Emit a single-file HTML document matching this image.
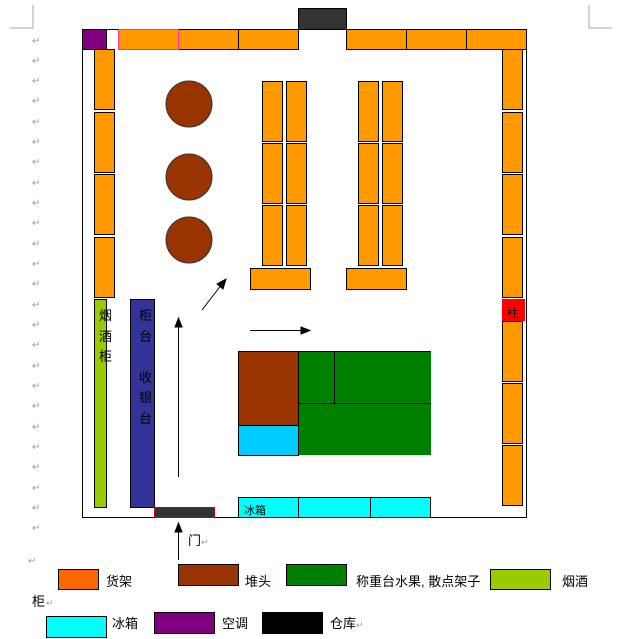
<!DOCTYPE html>
<html><head><meta charset="utf-8"><style>
html,body{margin:0;padding:0;background:#fff;width:623px;height:639px;overflow:hidden}
svg text{font-family:"Liberation Sans","Noto Sans CJK SC",sans-serif}
</style></head><body>
<svg width="623" height="639" viewBox="0 0 623 639" xmlns="http://www.w3.org/2000/svg">
<!-- page corner marks -->
<path d="M33 5 V28 H10" fill="none" stroke="#aaa"/>
<path d="M589 5 V28 H612" fill="none" stroke="#aaa"/>
<g fill="#999" font-size="10">
<text x="32" y="44">↵</text><text x="32" y="64">↵</text><text x="32" y="84">↵</text><text x="32" y="104">↵</text>
<text x="32" y="125">↵</text><text x="32" y="145">↵</text><text x="32" y="165">↵</text><text x="32" y="186">↵</text>
<text x="32" y="206">↵</text><text x="32" y="226">↵</text><text x="32" y="247">↵</text><text x="32" y="267">↵</text>
<text x="32" y="287">↵</text><text x="32" y="308">↵</text><text x="32" y="328">↵</text><text x="32" y="348">↵</text>
<text x="32" y="369">↵</text><text x="32" y="389">↵</text><text x="32" y="409">↵</text><text x="32" y="430">↵</text>
<text x="32" y="450">↵</text><text x="32" y="470">↵</text><text x="32" y="491">↵</text><text x="32" y="511">↵</text>
<text x="32" y="531">↵</text><text x="28" y="564">↵</text>
</g>
<!-- outer -->
<rect x="82.5" y="29.5" width="444" height="488" fill="none" stroke="#000"/>
<g stroke="#000" stroke-width="1">
<rect x="82.5" y="29.5" width="24" height="20" fill="#800080"/>
<rect x="178.5" y="29.5" width="60" height="20" fill="#ff9900"/>
<rect x="238.5" y="29.5" width="60" height="20" fill="#ff9900"/>
<rect x="346.5" y="29.5" width="60" height="20" fill="#ff9900"/>
<rect x="406.5" y="29.5" width="60" height="20" fill="#ff9900"/>
<rect x="466.5" y="29.5" width="60" height="20" fill="#ff9900"/>
<rect x="298.5" y="8.5" width="48" height="21" fill="#333"/>
<!-- left column -->
<rect x="94.5" y="49.5" width="20" height="60" fill="#ff9900"/>
<rect x="94.5" y="112.5" width="20" height="60" fill="#ff9900"/>
<rect x="94.5" y="174.5" width="20" height="60" fill="#ff9900"/>
<rect x="94.5" y="237.5" width="20" height="60" fill="#ff9900"/>
<rect x="94.5" y="299.5" width="12" height="208" fill="#99cc00"/>
<rect x="130.5" y="299.5" width="24" height="208" fill="#333399"/>
<!-- right column -->
<rect x="502.5" y="49.5" width="20" height="60" fill="#ff9900"/>
<rect x="502.5" y="112.5" width="20" height="60" fill="#ff9900"/>
<rect x="502.5" y="174.5" width="20" height="60" fill="#ff9900"/>
<rect x="502.5" y="237.5" width="20" height="60" fill="#ff9900"/>
<rect x="502.5" y="321.5" width="20" height="60" fill="#ff9900"/>
<rect x="502.5" y="383.5" width="20" height="60" fill="#ff9900"/>
<rect x="502.5" y="445.5" width="20" height="60" fill="#ff9900"/>
<!-- shelves group 1 -->
<rect x="262.5" y="81.5" width="20" height="60" fill="#ff9900"/>
<rect x="286.5" y="81.5" width="20" height="60" fill="#ff9900"/>
<rect x="262.5" y="143.5" width="20" height="60" fill="#ff9900"/>
<rect x="286.5" y="143.5" width="20" height="60" fill="#ff9900"/>
<rect x="262.5" y="205.5" width="20" height="60" fill="#ff9900"/>
<rect x="286.5" y="205.5" width="20" height="60" fill="#ff9900"/>
<rect x="250.5" y="268.5" width="60" height="21" fill="#ff9900"/>
<rect x="358.5" y="81.5" width="20" height="60" fill="#ff9900"/>
<rect x="382.5" y="81.5" width="20" height="60" fill="#ff9900"/>
<rect x="358.5" y="143.5" width="20" height="60" fill="#ff9900"/>
<rect x="382.5" y="143.5" width="20" height="60" fill="#ff9900"/>
<rect x="358.5" y="205.5" width="20" height="60" fill="#ff9900"/>
<rect x="382.5" y="205.5" width="20" height="60" fill="#ff9900"/>
<rect x="346.5" y="268.5" width="60" height="21" fill="#ff9900"/>
<!-- circles -->
<circle cx="189" cy="104" r="23" fill="#993300" stroke="#333"/>
<circle cx="189" cy="177" r="23" fill="#993300" stroke="#333"/>
<circle cx="189" cy="240" r="23" fill="#993300" stroke="#333"/>
<!-- bottom cyan -->
<rect x="238.5" y="497.5" width="60" height="20" fill="#00ffff"/>
<rect x="298.5" y="497.5" width="72" height="20" fill="#00ffff"/>
<rect x="370.5" y="497.5" width="60" height="20" fill="#00ffff"/>
</g>
<rect x="118.5" y="29.5" width="60" height="20" fill="#ff9900" stroke="#ff3399"/>
<rect x="502.5" y="299.5" width="22" height="21" fill="#ff0000" stroke="#ff0000"/>
<rect x="154.5" y="507.5" width="60" height="10" fill="#333" stroke="#cc0000"/>
<!-- green/brown block -->
<rect x="298" y="351" width="133" height="104" fill="#008000"/>
<g stroke="#000" stroke-width="1">
<rect x="238.5" y="351.5" width="60" height="74" fill="#993300"/>
<rect x="238.5" y="425.5" width="60" height="30" fill="#00ccff"/>
<line x1="298" y1="351.5" x2="431" y2="351.5"/>
<line x1="334.5" y1="351" x2="334.5" y2="403"/>
<line x1="298" y1="403.5" x2="431" y2="403.5"/>
</g>
<!-- arrows -->
<g stroke="#000" fill="#000">
<line x1="202" y1="310" x2="222" y2="284"/><polygon points="226,279 217,284 223,289"/>
<line x1="178.5" y1="477" x2="178.5" y2="325"/><polygon points="178.5,318 175,327 182,327"/>
<line x1="250" y1="330.5" x2="303" y2="330.5"/><polygon points="310,330.5 301,327 301,334"/>
<line x1="178.5" y1="560" x2="178.5" y2="530"/><polygon points="178.5,523 175,532 182,532"/>
</g>
<g font-size="13" fill="#000">
<text x="99" y="320">烟</text><text x="99" y="341">酒</text><text x="99" y="361">柜</text>
<text x="139" y="320">柜</text><text x="139" y="341">台</text>
<text x="139" y="382">收</text><text x="139" y="402">银</text><text x="139" y="423">台</text>
<text x="507" y="317" font-size="11">柱</text>
<text x="244" y="514" font-size="11">冰箱</text>
<text x="188" y="545">门</text><text x="201" y="545" fill="#999" font-size="9">↵</text>
</g>
<!-- legend -->
<g stroke="#000">
<rect x="58.5" y="569.5" width="40" height="20" fill="#ff6600"/>
<rect x="178.5" y="564.5" width="60" height="21" fill="#993300"/>
<rect x="286.5" y="564.5" width="60" height="21" fill="#008000"/>
<rect x="490.5" y="569.5" width="60" height="20" fill="#99cc00"/>
<rect x="46.5" y="616.5" width="60" height="21" fill="#00ffff"/>
<rect x="154.5" y="612.5" width="60" height="21" fill="#800080"/>
<rect x="262.5" y="612.5" width="60" height="21" fill="#000"/>
</g>
<g font-size="13" fill="#000">
<text x="106" y="586">货架</text>
<text x="245" y="586">堆头</text>
<text x="356" y="586">称重台水果, 散点架子</text>
<text x="562" y="586">烟酒</text>
<text x="32" y="606">柜</text><text x="46" y="606" fill="#999" font-size="9">↵</text>
<text x="112" y="628">冰箱</text>
<text x="222" y="628">空调</text>
<text x="330" y="628">仓库</text><text x="356" y="628" fill="#999" font-size="9">↵</text>
</g>
</svg>
</body></html>
